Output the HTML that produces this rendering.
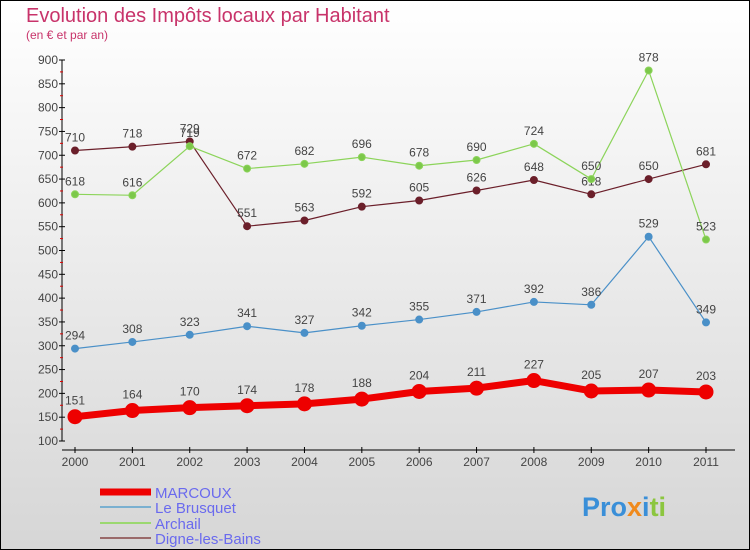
<!DOCTYPE html>
<html><head><meta charset="utf-8"><style>
body{margin:0}
#c{width:750px;height:550px;position:relative;overflow:hidden;font-family:"Liberation Sans",sans-serif;}
</style></head><body>
<div id="c">
<svg id="s" width="750" height="550" xmlns="http://www.w3.org/2000/svg">
<defs><linearGradient id="bg" x1="0" y1="0" x2="0" y2="1"><stop offset="0" stop-color="#ffffff"/><stop offset="1" stop-color="#d6d6d6"/></linearGradient></defs>
<rect x="0.5" y="0.5" width="749" height="549" fill="url(#bg)" stroke="#000"/>
<text x="26" y="22" font-size="20" fill="#c8336a">Evolution des Impôts locaux par Habitant</text>
<text x="26" y="39" font-size="12" fill="#c8336a">(en € et par an)</text>
<g id="axes"></g><g id="series"></g><g id="legend"></g>
<text x="582" y="516" font-size="27" font-weight="bold" fill="#3a8fd8">Pro<tspan fill="#f08a1c">x</tspan><tspan fill="#3a8fd8">i</tspan><tspan fill="#8cc63f">ti</tspan></text>
</svg></div>
<script>
const years=[2000,2001,2002,2003,2004,2005,2006,2007,2008,2009,2010,2011];
const yTicks=[100,150,200,250,300,350,400,450,500,550,600,650,700,750,800,850,900];
const marcoux=[151,164,170,174,178,188,204,211,227,205,207,203];
const brusquet=[294,308,323,341,327,342,355,371,392,386,529,349];
const archail=[618,616,719,672,682,696,678,690,724,650,878,523];
const digne=[710,718,729,551,563,592,605,626,648,618,650,681];
const NS="http://www.w3.org/2000/svg";
function X(i){return 75+i*(706-75)/11;}
function Y(v){return 441-(v-100)*(441-60)/800;}
function mk(t,a,p){const e=document.createElementNS(NS,t);for(const k in a)e.setAttribute(k,a[k]);p.appendChild(e);return e;}
const ax=document.getElementById('axes');
const yl=mk('line',{x1:62,y1:60,x2:62,y2:441,stroke:'#000'},ax);


yTicks.forEach(v=>{
 mk('line',{x1:59,y1:Y(v),x2:65,y2:Y(v),stroke:'#000'},ax);
 if(v<900)mk('line',{x1:60,y1:Y(v+25),x2:63,y2:Y(v+25),stroke:'#d00'},ax);
 const t=mk('text',{x:58,y:Y(v)+4,'font-size':12,'text-anchor':'end',fill:'#444'},ax);
 t.textContent=v;
 
 
});
const xl=mk('line',{x1:62,y1:450,x2:735,y2:450,stroke:'#000'},ax);


years.forEach((y,i)=>{
 mk('line',{x1:X(i),y1:447,x2:X(i),y2:453,stroke:'#000'},ax);
 const t=mk('text',{x:X(i),y:466,'font-size':12,'text-anchor':'middle',fill:'#444'},ax);
 t.textContent=y;
 
 
});
const sg=document.getElementById('series');
function series(vals,color,dot,w,r,name){
 const g=mk('g',{},sg);
 
 
 mk('polyline',{points:vals.map((v,i)=>X(i)+','+Y(v)).join(' '),fill:'none',stroke:color,'stroke-width':w,'stroke-linejoin':'round'},g);
 vals.forEach((v,i)=>{
  const c=mk('circle',{cx:X(i),cy:Y(v),r:r,fill:dot,stroke:color,'stroke-width':1},g);
  
  
  const t=mk('text',{x:X(i),y:Y(v)-9-(r>4?3:0),'font-size':12,'text-anchor':'middle',fill:'#444'},g);
  t.textContent=v;
  
  
 });
}
series(digne,'#6b1f2a','#6b1f2a',1.2,3.5,'digne-les-bains');
series(archail,'#8cd45a','#7cc84a',1.2,3.5,'archail');
series(brusquet,'#4a90c8','#4a90c8',1.2,3.5,'le-brusquet');
series(marcoux,'#ee0000','#ee0000',7,7,'marcoux');
const lg=document.getElementById('legend');
[['MARCOUX','#ee0000',7,492],['Le Brusquet','#7ab0d0',2,507],['Archail','#9bd870',2,523],['Digne-les-Bains','#9a6a6a',2,538]].forEach(l=>{
 const g=mk('g',{},lg);
 
 
 mk('line',{x1:100,y1:l[3],x2:151,y2:l[3],stroke:l[1],'stroke-width':l[2]},g);
 const t=mk('text',{x:155,y:l[3]+6,'font-size':15,fill:'#6a6aee'},g);
 t.textContent=l[0];
});
</script>
</body></html>
